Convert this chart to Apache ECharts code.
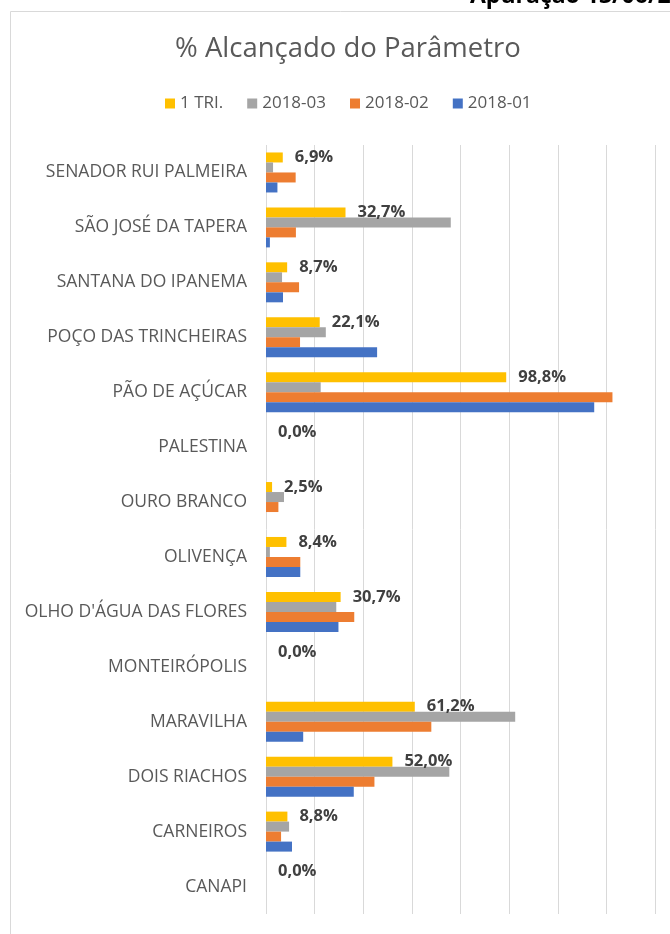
<!DOCTYPE html>
<html><head><meta charset="utf-8">
<script src="https://cdn.jsdelivr.net/npm/echarts@6/dist/echarts.min.js"></script>
<style>html,body{margin:0;padding:0;background:#fff}#c{width:670px;height:934px}</style>
</head><body><div id="c"></div>
<script>
// categories bottom -> top
const categories = ["CANAPI","CARNEIROS","DOIS RIACHOS","MARAVILHA","MONTEIRÓPOLIS","OLHO D'ÁGUA DAS FLORES","OLIVENÇA","OURO BRANCO","PALESTINA","PÃO DE AÇÚCAR","POÇO DAS TRINCHEIRAS","SANTANA DO IPANEMA","SÃO JOSÉ DA TAPERA","SENADOR RUI PALMEIRA"];
const tri1   = [0.0, 8.8, 52.0, 61.2, 0.0, 30.7, 8.4, 2.5, 0.0, 98.8, 22.1, 8.7, 32.7, 6.9];
const m2018_03 = [0, 9.5, 75.4, 102.5, 0, 28.9, 1.6, 7.4, 0, 22.5, 24.6, 6.6, 76.0, 2.9];
const m2018_02 = [0, 6.2, 44.6, 68.0, 0, 36.3, 14.1, 5.1, 0, 142.5, 14.0, 13.6, 12.3, 12.2];
const m2018_01 = [0, 10.7, 36.1, 15.3, 0, 29.8, 14.1, 0, 0, 135.0, 45.7, 7.0, 1.6, 4.7];
const axisTicks = [0, 20, 40, 60, 80, 100, 120, 140, 160];

const font = "'Open Sans', sans-serif";
const chart = echarts.init(document.getElementById('c'));
const bar = (name, data, color, label) => ({
  name, type: 'bar', data, barWidth: 10, barGap: '0%',
  itemStyle: { color },
  label: label ? {
    show: true, position: 'right', distance: 12,
    fontFamily: font, fontWeight: 'bold', fontSize: 16.5, color: '#404040',
    formatter: p => p.value.toFixed(1).replace('.', ',') + '%'
  } : { show: false },
  silent: true
});
chart.setOption({
  animation: false,
  title: {
    text: '% Alcançado do Parâmetro', left: 170, top: 30,
    textStyle: { fontFamily: font, fontWeight: 'normal', fontSize: 27.5, color: '#595959' }
  },
  graphic: [
    { type: 'rect', shape: { x: 10.5, y: 11.5, width: 700, height: 960 }, style: { fill: 'none', stroke: '#d9d9d9', lineWidth: 1 } },
    { type: 'text', left: 470, top: -15, style: { text: 'Apuração 13/06/2018', fontFamily: font, fontWeight: 'bold', fontSize: 23, fill: '#000' } }
  ],
  legend: {
    top: 90, left: 160, itemWidth: 10, itemHeight: 10, itemGap: 24, icon: 'rect',
    data: ['1 TRI.', '2018-03', '2018-02', '2018-01'],
    textStyle: { fontFamily: font, fontSize: 17, color: '#595959' }
  },
  grid: { left: 266, right: 15, top: 145, bottom: 20, containLabel: false },
  xAxis: {
    type: 'value', min: axisTicks[0], max: axisTicks[axisTicks.length - 1], interval: 20,
    axisLabel: { show: false }, axisLine: { show: false }, axisTick: { show: false },
    splitLine: { show: true, lineStyle: { color: '#d9d9d9', width: 1 } }
  },
  yAxis: {
    type: 'category', data: categories,
    axisLine: { show: false }, axisTick: { show: false },
    axisLabel: { fontFamily: font, fontSize: 17.5, color: '#595959', margin: 19 }
  },
  series: [
    bar('1 TRI.', tri1, '#FFC000', true),
    bar('2018-03', m2018_03, '#A5A5A5'),
    bar('2018-02', m2018_02, '#ED7D31'),
    bar('2018-01', m2018_01, '#4472C4')
  ]
});
</script></body></html>
